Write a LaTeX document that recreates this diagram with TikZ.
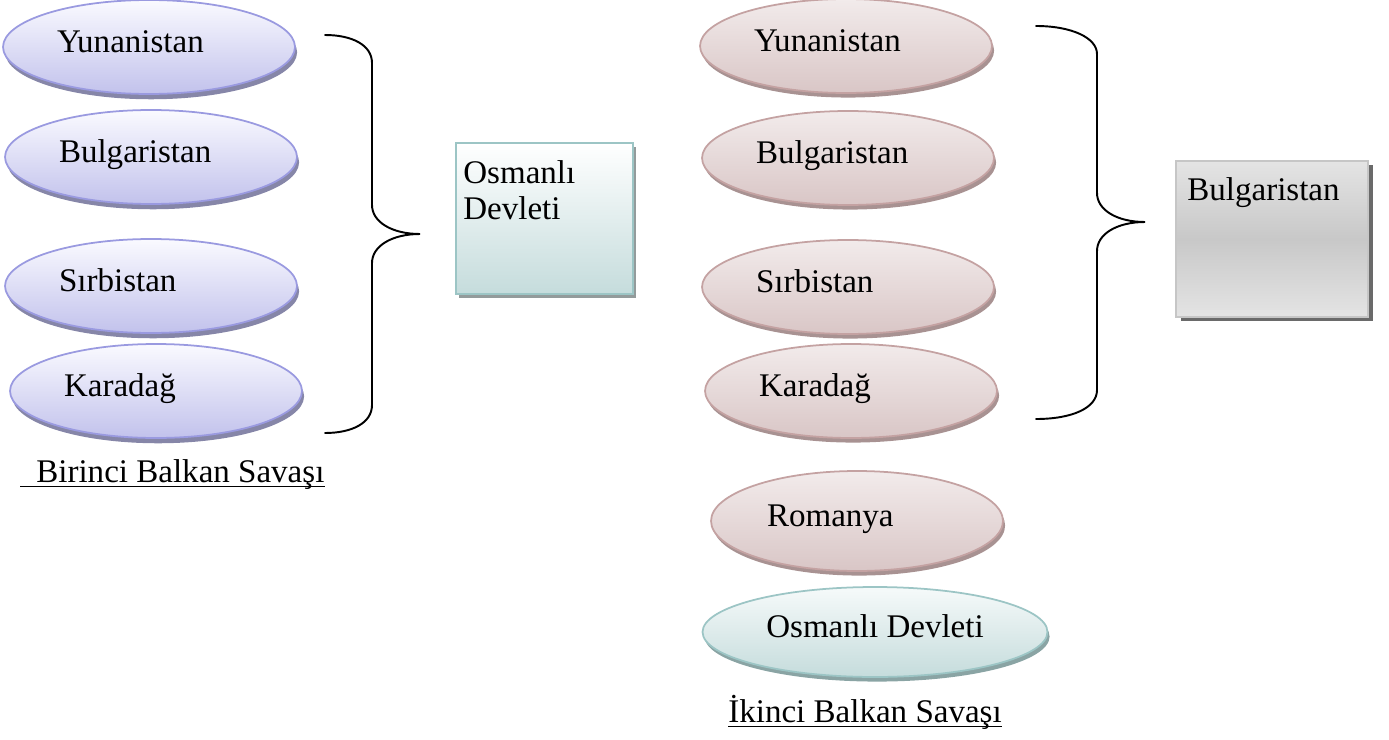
\documentclass[tikz,border=0pt]{standalone}
\usepackage{fontspec}
\setmainfont{Liberation Serif}
\usepackage{xcolor}
\usepackage{tikz}
\usetikzlibrary{shapes.geometric, shadows, positioning}
\definecolor{ovblue}{HTML}{9A9AE0}
\definecolor{ovbluetop}{HTML}{FAFAFF}
\definecolor{ovbluebot}{HTML}{C2C2EC}
\definecolor{ovblueshd}{HTML}{8686A8}
\definecolor{ovpink}{HTML}{C4A2A2}
\definecolor{ovpinktop}{HTML}{F2EBEB}
\definecolor{ovpinkbot}{HTML}{D9C6C6}
\definecolor{ovpinkshd}{HTML}{A89292}
\definecolor{ovteal}{HTML}{9CC5C5}
\definecolor{ovtealtop}{HTML}{F6FAFA}
\definecolor{ovtealbot}{HTML}{C5DCDC}
\definecolor{ovtealshd}{HTML}{8AA4A4}
\definecolor{boxgray}{HTML}{C6C6C6}
\definecolor{boxgraytop}{HTML}{E4E4E4}
\definecolor{boxgraymid}{HTML}{C8C8C8}
\definecolor{boxgrayshd}{HTML}{6A6A6A}
\definecolor{boxtealshd}{HTML}{939B9B}

\begin{document}
\begin{tikzpicture}[
    x=0.02cm, y=-0.02cm,
    font=\fontsize{18.8}{20.5}\selectfont,
    oval/.style={ellipse, line width=1pt, minimum width=5.84cm, minimum height=1.88cm,
        text width=3.68cm, align=left, text height=1.6ex, text depth=0.2ex},
    blueoval/.style={oval, draw=ovblue, top color=ovbluetop, bottom color=ovbluebot,
        drop shadow={shadow xshift=1.2pt, shadow yshift=-3pt, fill=ovblueshd, opacity=1}},
    pinkoval/.style={oval, draw=ovpink, top color=ovpinktop, bottom color=ovpinkbot,
        drop shadow={shadow xshift=1.2pt, shadow yshift=-2.6pt, fill=ovpinkshd, opacity=1}},
    tealoval/.style={ellipse, line width=1pt, minimum width=6.9cm, minimum height=1.8cm,
        text height=1.6ex, text depth=0.2ex,
        draw=ovteal, top color=ovtealtop, bottom color=ovtealbot,
        drop shadow={shadow xshift=1.2pt, shadow yshift=-2.6pt, fill=ovtealshd, opacity=1}},
    sidebox/.style={rectangle, line width=1pt, anchor=north west, inner sep=0pt},
    boxtext/.style={inner sep=0pt, align=left},
    caption/.style={inner sep=0pt, anchor=base west},
    uline/.style={line width=0.85pt},
    brace/.style={line width=1.1pt, line cap=round}
]
\useasboundingbox (0,0) rectangle (1389,740);

% First war: allies
\node[blueoval] (yun1) at (149,47) {Yunanistan};
\node[blueoval] (bul1) at (151,157) {Bulgaristan};
\node[blueoval] (sir1) at (151,286) {Sırbistan};
\node[blueoval] (kar1) at (156,391) {Karadağ};

% First war: brace
\coordinate (br1top) at (325,35);
\coordinate (br1tip) at (420,234);
\coordinate (br1bot) at (325,433);
\draw[brace] (br1top) .. controls (352,35) and (372,45) .. (372,63) -- (372,205)
    .. controls (372,222) and (392,234) .. (br1tip)
    .. controls (392,234) and (372,246) .. (372,263) -- (372,405)
    .. controls (372,423) and (352,433) .. (br1bot);

% First war: opponent
\node[sidebox, draw=ovteal, top color=white, bottom color=ovtealbot,
    minimum width=3.54cm, minimum height=3.02cm,
    drop shadow={shadow xshift=2pt, shadow yshift=-2.3pt, fill=boxtealshd, opacity=1}]
    (osmbox) at (455,142) {};
\node[boxtext, anchor=north west] (osmtxt) at (463,160) {Osmanlı\\Devleti};

% First war: caption
\node[caption] (cap1) at (36,482) {Birinci Balkan Savaşı};
\draw[uline] ([xshift=-9pt, yshift=-2.6pt]cap1.base west) -- ([yshift=-2.6pt]cap1.base east);

% Second war: allies
\node[pinkoval] (yun2) at (846,46) {Yunanistan};
\node[pinkoval] (bul2) at (848,158) {Bulgaristan};
\node[pinkoval] (sir2) at (848,287) {Sırbistan};
\node[pinkoval] (kar2) at (851,391) {Karadağ};
\node[pinkoval, minimum height=2cm, text width=3.6cm] (rom2) at (857,521) {Romanya};
\node[tealoval] (osm2) at (875,632) {Osmanlı Devleti};

% Second war: brace
\coordinate (br2top) at (1036,26);
\coordinate (br2tip) at (1145,222);
\coordinate (br2bot) at (1036,419);
\draw[brace] (br2top) .. controls (1072,26) and (1097,38) .. (1097,54) -- (1097,193)
    .. controls (1097,210) and (1117,222) .. (br2tip)
    .. controls (1117,222) and (1097,234) .. (1097,251) -- (1097,390)
    .. controls (1097,408) and (1072,419) .. (br2bot);

% Second war: opponent
\node[sidebox, draw=boxgray, top color=boxgraytop, bottom color=boxgraytop, middle color=boxgraymid,
    minimum width=3.84cm, minimum height=3.12cm,
    drop shadow={shadow xshift=2.8pt, shadow yshift=-2.3pt, fill=boxgrayshd, opacity=1}]
    (bulbox) at (1175,160) {};
\node[caption] (bultxt) at (1187,200) {Bulgaristan};

% Second war: caption
\node[caption] (cap2) at (728,722) {İkinci Balkan Savaşı};
\draw[uline] ([yshift=-2.6pt]cap2.base west) -- ([yshift=-2.6pt]cap2.base east);

\end{tikzpicture}
\end{document}
